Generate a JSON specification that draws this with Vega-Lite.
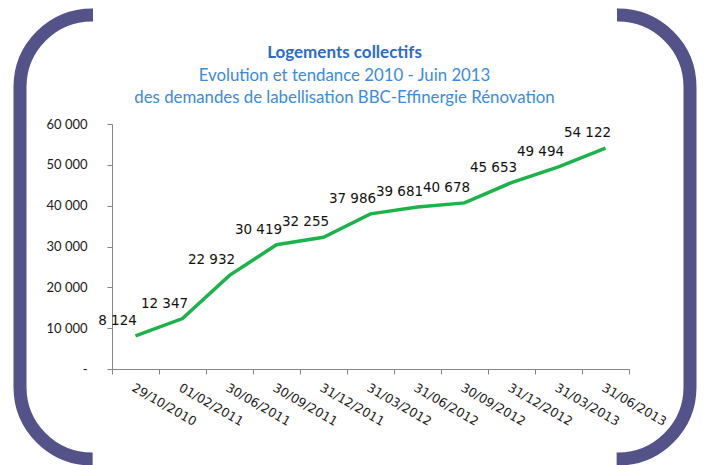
{
  "$schema": "https://vega.github.io/schema/vega-lite/v6.json",
  "width": 670,
  "height": 444,
  "autosize": {"type": "none"},
  "padding": {"left": 20, "top": 15, "right": 18, "bottom": 6},
  "background": "white",
  "config": {
    "locale": {"number": {"decimal": ",", "thousands": " ", "grouping": [3], "currency": ["", " €"]}},
    "view": {"stroke": "#535389", "strokeWidth": 13, "cornerRadius": 72, "strokeDash": [1, 524, 528.2, 524, 527.2], "fill": "white"}
  },
  "title": {
    "text": "Logements collectifs",
    "subtitle": ["Evolution et tendance 2010 - Juin 2013", "des demandes de labellisation BBC-Effinergie Rénovation"],
    "anchor": "middle",
    "frame": "group",
    "offset": -93,
    "dx": -10.5,
    "font": "Lato",
    "fontSize": 17,
    "fontWeight": "bold",
    "color": "#2b6cc4",
    "subtitleFont": "Lato",
    "subtitleFontSize": 16.8,
    "subtitleColor": "#3a8be0",
    "subtitleLineHeight": 22.5,
    "subtitlePadding": 6
  },
  "data": {
    "values": [
      {"date": "29/10/2010", "value": 8124},
      {"date": "01/02/2011", "value": 12347},
      {"date": "30/06/2011", "value": 22932},
      {"date": "30/09/2011", "value": 30419},
      {"date": "31/12/2011", "value": 32255},
      {"date": "31/03/2012", "value": 37986},
      {"date": "31/06/2012", "value": 39681},
      {"date": "30/09/2012", "value": 40678},
      {"date": "31/12/2012", "value": 45653},
      {"date": "31/03/2013", "value": 49494},
      {"date": "31/06/2013", "value": 54122}
    ]
  },
  "encoding": {
    "x": {
      "field": "date",
      "type": "ordinal",
      "sort": null,
      "scale": {"type": "band", "range": [92, 609], "paddingInner": 0, "paddingOuter": 0},
      "axis": {
        "title": null,
        "orient": "bottom",
        "offset": -90,
        "tickBand": "extent",
        "labelAngle": 30,
        "labelAlign": "left",
        "labelBaseline": "top",
        "labelPadding": 7,
        "labelOverlap": false,
        "labelFont": "DejaVu Sans",
        "labelFontSize": 12.5,
        "labelColor": "#1a1a1a",
        "tickSize": 5,
        "tickColor": "#868686",
        "domainColor": "#868686",
        "grid": false
      }
    },
    "y": {
      "field": "value",
      "type": "quantitative",
      "scale": {"domain": [0, 60000], "range": [354, 109], "nice": false},
      "axis": {
        "title": null,
        "orient": "left",
        "offset": -92,
        "values": [0, 10000, 20000, 30000, 40000, 50000, 60000],
        "format": ",.0f",
        "labelExpr": "datum.value == 0 ? '-  ' : datum.label",
        "labelPadding": 20,
        "labelFont": "Lato",
        "labelFontSize": 13,
        "labelColor": "#1a1a1a",
        "tickSize": 5,
        "tickColor": "#868686",
        "domainColor": "#868686",
        "grid": false
      }
    }
  },
  "layer": [
    {"mark": {"type": "line", "color": "#1db34b", "strokeWidth": 3.5}},
    {
      "mark": {"type": "text", "font": "DejaVu Sans", "fontSize": 13.5, "color": "#111111", "align": "center", "baseline": "middle", "dx": -18, "dy": -15},
      "encoding": {"text": {"field": "value", "type": "quantitative", "format": ","}}
    }
  ]
}
